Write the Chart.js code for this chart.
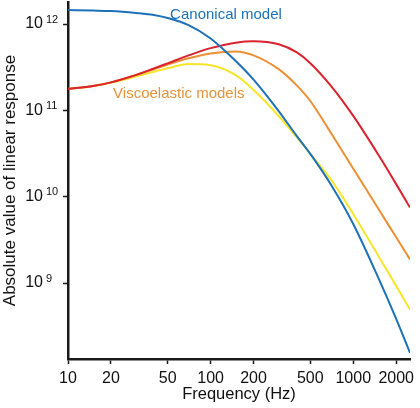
<!DOCTYPE html>
<html><head><meta charset="utf-8">
<script src="https://cdn.jsdelivr.net/npm/chart.js@4.4.1/dist/chart.umd.min.js"></script>
<style>html,body{margin:0;padding:0;background:#fff}#wrap{width:420px;height:408px}</style>
</head><body><div id="wrap"><canvas id="c" width="420" height="408"></canvas></div>
<script>
const frequencies = [10,15,20,30,40,50,70,100,150,200,300,400,500,700,1000,1500,2000,2500];
const canonical = [1.452e12,1.433e12,1.414e12,1.341e12,1.271e12,1.173e12,9.71e11,6.81e11,3.73e11,2.27e11,9.81e10,5.10e10,3.13e10,1.369e10,4.84e9,1.148e9,3.85e8,1.556e8];
const viscoRed = [1.769e11,1.916e11,2.109e11,2.576e11,3.055e11,3.508e11,4.33e11,5.26e11,6.09e11,6.32e11,5.83e11,4.72e11,3.52e11,1.911e11,8.63e10,3.06e10,1.399e10,7.48e9];
const viscoOrange = [1.769e11,1.916e11,2.109e11,2.563e11,2.998e11,3.398e11,4.009e11,4.567e11,4.818e11,4.343e11,3.006e11,1.963e11,1.285e11,5.43e10,2.114e10,7.24e9,3.39e9,1.88e9];
const viscoYellow = [1.769e11,1.916e11,2.087e11,2.468e11,2.804e11,3.07e11,3.435e11,3.336e11,2.555e11,1.722e11,8.61e10,4.92e10,3.13e10,1.564e10,6.32e9,2.064e9,9.28e8,4.90e8];
const xTicks = [10,20,50,100,200,500,1000,2000];
const yTicks = [1e9,1e10,1e11,1e12];
const yTickExponents = ['9','10','11','12'];
const labelCanonical = 'Canonical model';
const labelVisco = 'Viscoelastic models';

const FAM = '"Liberation Sans", Arial, Helvetica, sans-serif';
const pts = arr => frequencies.map((f,i)=>({x:f,y:arr[i]}));
const ds = (label, arr, color) => ({label, data: pts(arr), borderColor: color, backgroundColor: color,
  borderWidth: 2, pointRadius: 0, fill: false, cubicInterpolationMode: 'monotone'});

const extras = {
  id: 'extras',
  afterDraw(chart) {
    const ctx = chart.ctx, ys = chart.scales.y, xs = chart.scales.x;
    ctx.save();
    ctx.fillStyle = '#111';
    ctx.font = '11px ' + FAM;
    ctx.textAlign = 'left';
    ctx.textBaseline = 'alphabetic';
    yTicks.forEach((v,i) => {
      const py = ys.getPixelForValue(v);
      ctx.fillText(yTickExponents[i], 46, py - 1.3);
    });
    ctx.font = '15px ' + FAM;
    ctx.fillStyle = '#1d71b8';
    ctx.fillText(labelCanonical, xs.getPixelForValue(52), ys.getPixelForValue(1.13e12));
    ctx.fillStyle = '#e8923a';
    ctx.fillText(labelVisco, xs.getPixelForValue(20.7), ys.getPixelForValue(1.38e11));
    ctx.restore();
  }
};

new Chart(document.getElementById('c'), {
  type: 'line',
  data: { datasets: [
    ds(labelCanonical, canonical, '#1d71b8'),
    ds('Viscoelastic (red)', viscoRed, '#d9232e'),
    ds('Viscoelastic (orange)', viscoOrange, '#ec8f33'),
    ds('Viscoelastic (yellow)', viscoYellow, '#f6e52c')
  ]},
  options: {
    responsive: false, animation: false, devicePixelRatio: 1,
    layout: { padding: { top: 2, right: 10, bottom: 0, left: 0 } },
    plugins: { legend: { display: false }, tooltip: { enabled: false } },
    scales: {
      x: {
        type: 'logarithmic', min: 10, max: 2500,
        afterBuildTicks: s => { s.ticks = xTicks.map(v => ({value: v})); },
        afterFit: s => { s.height = 49; s.paddingLeft = 0; s.paddingRight = 0; },
        border: { display: true, color: '#1a1a1a', width: 2.5 },
        grid: { display: true, drawOnChartArea: false, drawTicks: true, tickLength: 5, tickWidth: 1.5, tickColor: '#1a1a1a' },
        ticks: { autoSkip: false, maxRotation: 0, padding: 5, color: '#111', font: { size: 16, family: FAM }, callback: v => String(v) },
        title: { display: true, text: 'Frequency (Hz)', color: '#111', font: { size: 16.5, family: FAM }, padding: { top: 0, bottom: 4 } }
      },
      y: {
        type: 'logarithmic', min: 1.32e8, max: 1.8e12,
        afterBuildTicks: s => { s.ticks = yTicks.map(v => ({value: v})); },
        afterFit: s => { s.width = 68; s.paddingTop = 0; s.paddingBottom = 0; },
        border: { display: true, color: '#1a1a1a', width: 2.5 },
        grid: { display: true, drawOnChartArea: false, drawTicks: true, tickLength: 5, tickWidth: 1.5, tickColor: '#1a1a1a' },
        ticks: { autoSkip: false, padding: 20, color: '#111', font: { size: 16, family: FAM }, callback: () => '10' },
        title: { display: true, text: 'Absolute value of linear response', color: '#111', font: { size: 17, family: FAM }, padding: 0 }
      }
    }
  },
  plugins: [extras]
});
</script></body></html>
